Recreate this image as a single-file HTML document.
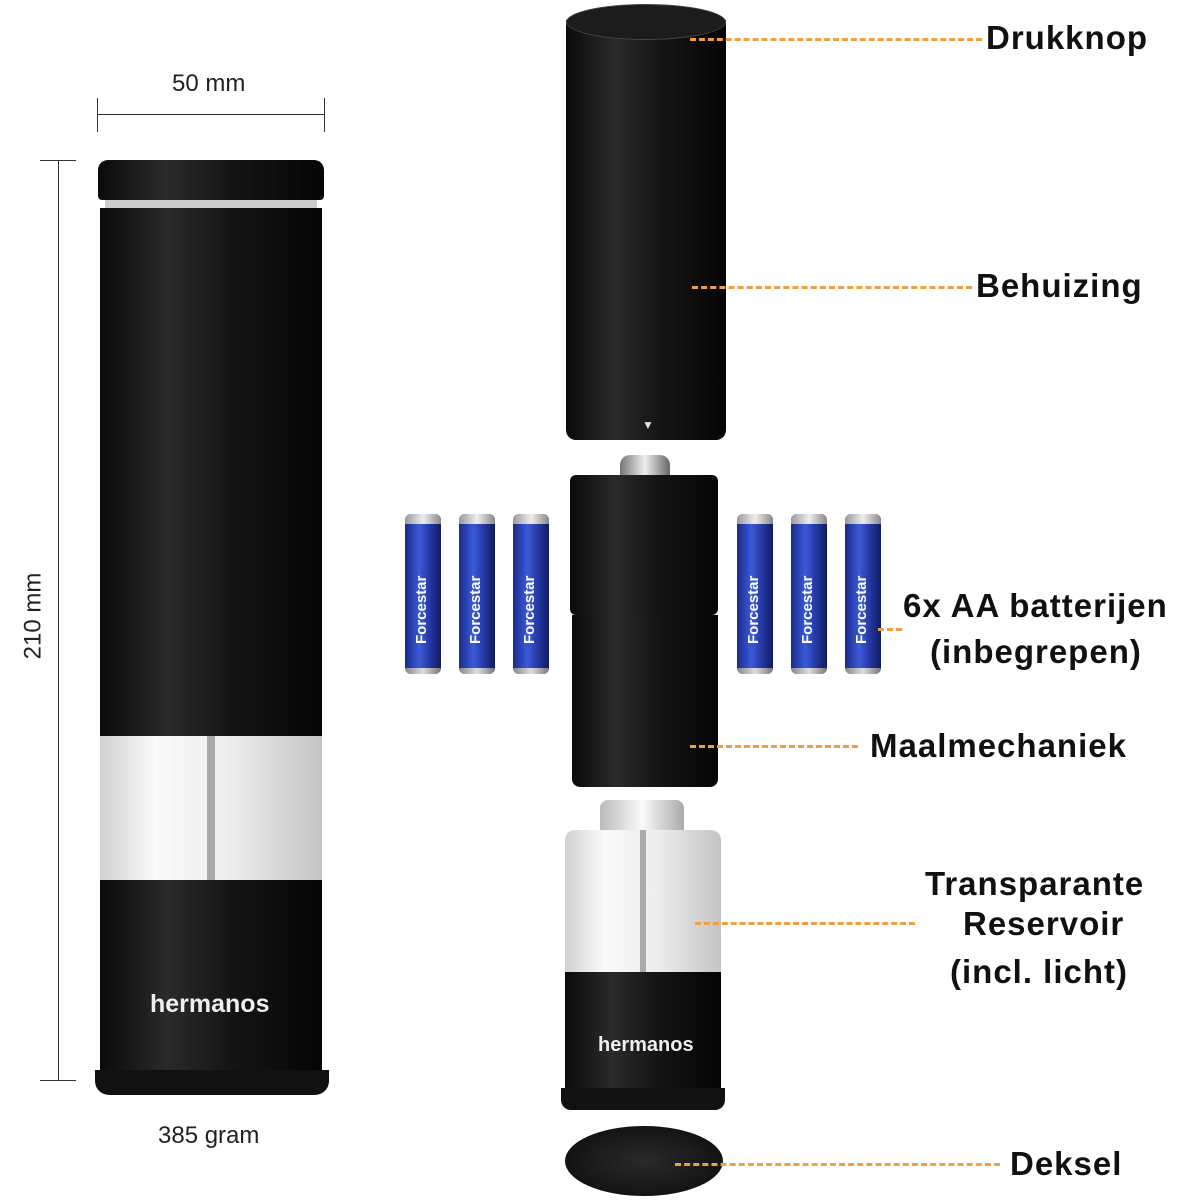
<!DOCTYPE html>
<html><head><meta charset="utf-8"><style>
html,body{margin:0;padding:0;background:#fff;}
#c{position:relative;width:1181px;height:1200px;overflow:hidden;font-family:"Liberation Sans",sans-serif;}
.a{position:absolute;}
.lbl{position:absolute;font-weight:bold;font-size:33px;letter-spacing:1px;color:#111;white-space:nowrap;}
.dash{position:absolute;height:0;border-top:3px dashed #f0a040;}
.bat{position:absolute;width:36px;height:160px;top:514px;border-radius:6px;background:linear-gradient(90deg,#1a2a8a,#3a5ad8 40%,#2436a0 70%,#101c60);}
.bat:before{content:"";position:absolute;left:0;right:0;top:0;height:10px;background:linear-gradient(90deg,#999,#eee,#888);border-radius:6px 6px 0 0;}
.bat:after{content:"";position:absolute;left:0;right:0;bottom:0;height:6px;background:linear-gradient(90deg,#888,#ddd,#777);border-radius:0 0 6px 6px;}
.bat span{position:absolute;transform:rotate(-90deg);transform-origin:0 0;color:#fff;font-weight:bold;font-size:15px;white-space:nowrap;top:130px;left:8px;}
.blk{background:linear-gradient(90deg,#0a0a0a,#2a2a2a 30%,#141414 60%,#050505);}
.clr{background:linear-gradient(90deg,#d0d0d0,#fafafa 25%,#ececec 60%,#c4c4c4);}
</style></head><body><div id="c">
<div class="a" style="left:97px;top:114px;width:228px;border-top:1px solid #333"></div>
<div class="a" style="left:97px;top:98px;height:34px;border-left:1px solid #333"></div>
<div class="a" style="left:324px;top:98px;height:34px;border-left:1px solid #333"></div>
<div class="a" style="left:172px;top:70px;font-size:24px;color:#222">50 mm</div>
<div class="a" style="left:58px;top:160px;height:920px;border-left:1px solid #333"></div>
<div class="a" style="left:40px;top:160px;width:36px;border-top:1px solid #333"></div>
<div class="a" style="left:40px;top:1080px;width:36px;border-top:1px solid #333"></div>
<div class="a" style="left:-10px;top:602px;font-size:24px;color:#222;transform:rotate(-90deg)">210 mm</div>
<div class="a" style="left:158px;top:1122px;font-size:24px;color:#222">385 gram</div>
<div class="a blk" style="left:98px;top:160px;width:226px;height:40px;border-radius:10px 10px 4px 4px"></div>
<div class="a" style="left:105px;top:200px;width:212px;height:10px;background:#ccc"></div>
<div class="a blk" style="left:100px;top:208px;width:222px;height:528px"></div>
<div class="a clr" style="left:100px;top:736px;width:222px;height:144px"></div>
<div class="a" style="left:207px;top:736px;width:8px;height:144px;background:#aaa"></div>
<div class="a blk" style="left:100px;top:880px;width:222px;height:195px"></div>
<div class="a" style="left:95px;top:1070px;width:234px;height:25px;background:#111;border-radius:0 0 14px 14px"></div>
<div class="a" style="left:150px;top:990px;font-size:25px;font-weight:bold;color:#eee">hermanos</div>
<div class="a blk" style="left:566px;top:20px;width:160px;height:420px;border-radius:0 0 10px 10px"></div>
<div class="a" style="left:566px;top:4px;width:160px;height:36px;border-radius:50%;background:#1c1c1c;border:1px solid #444;box-sizing:border-box"></div>
<div class="a" style="left:642px;top:418px;color:#ddd;font-size:12px">▼</div>
<div class="a" style="left:620px;top:455px;width:50px;height:35px;border-radius:10px;background:linear-gradient(90deg,#777,#eee,#666)"></div>
<div class="a blk" style="left:570px;top:475px;width:148px;height:140px;border-radius:6px"></div>
<div class="a blk" style="left:572px;top:615px;width:146px;height:172px;border-radius:0 0 8px 8px"></div>
<div class="bat" style="left:405px"><span>Forcestar</span></div>
<div class="bat" style="left:459px"><span>Forcestar</span></div>
<div class="bat" style="left:513px"><span>Forcestar</span></div>
<div class="bat" style="left:737px"><span>Forcestar</span></div>
<div class="bat" style="left:791px"><span>Forcestar</span></div>
<div class="bat" style="left:845px"><span>Forcestar</span></div>
<div class="a" style="left:600px;top:800px;width:84px;height:40px;border-radius:8px;background:linear-gradient(90deg,#bbb,#fafafa,#aaa)"></div>
<div class="a clr" style="left:565px;top:830px;width:156px;height:145px;border-radius:10px 10px 0 0"></div>
<div class="a" style="left:640px;top:830px;width:6px;height:145px;background:#aaa"></div>
<div class="a blk" style="left:565px;top:972px;width:156px;height:120px"></div>
<div class="a" style="left:561px;top:1088px;width:164px;height:22px;background:#111;border-radius:0 0 10px 10px"></div>
<div class="a" style="left:598px;top:1034px;font-size:20px;font-weight:bold;color:#eee">hermanos</div>
<div class="a" style="left:565px;top:1126px;width:158px;height:70px;border-radius:50%;background:radial-gradient(#2a2a2a,#0a0a0a)"></div>
<div class="dash" style="left:690px;top:38px;width:292px"></div>
<div class="lbl" style="left:986px;top:19px">Drukknop</div>
<div class="dash" style="left:692px;top:286px;width:280px"></div>
<div class="lbl" style="left:976px;top:267px">Behuizing</div>
<div class="dash" style="left:878px;top:628px;width:24px"></div>
<div class="lbl" style="left:903px;top:587px">6x AA batterijen</div>
<div class="lbl" style="left:930px;top:633px">(inbegrepen)</div>
<div class="dash" style="left:690px;top:745px;width:168px"></div>
<div class="lbl" style="left:870px;top:727px">Maalmechaniek</div>
<div class="dash" style="left:695px;top:922px;width:220px"></div>
<div class="lbl" style="left:925px;top:865px">Transparante</div>
<div class="lbl" style="left:963px;top:905px">Reservoir</div>
<div class="lbl" style="left:950px;top:953px">(incl. licht)</div>
<div class="dash" style="left:675px;top:1163px;width:325px"></div>
<div class="lbl" style="left:1010px;top:1145px">Deksel</div>
</div></body></html>
